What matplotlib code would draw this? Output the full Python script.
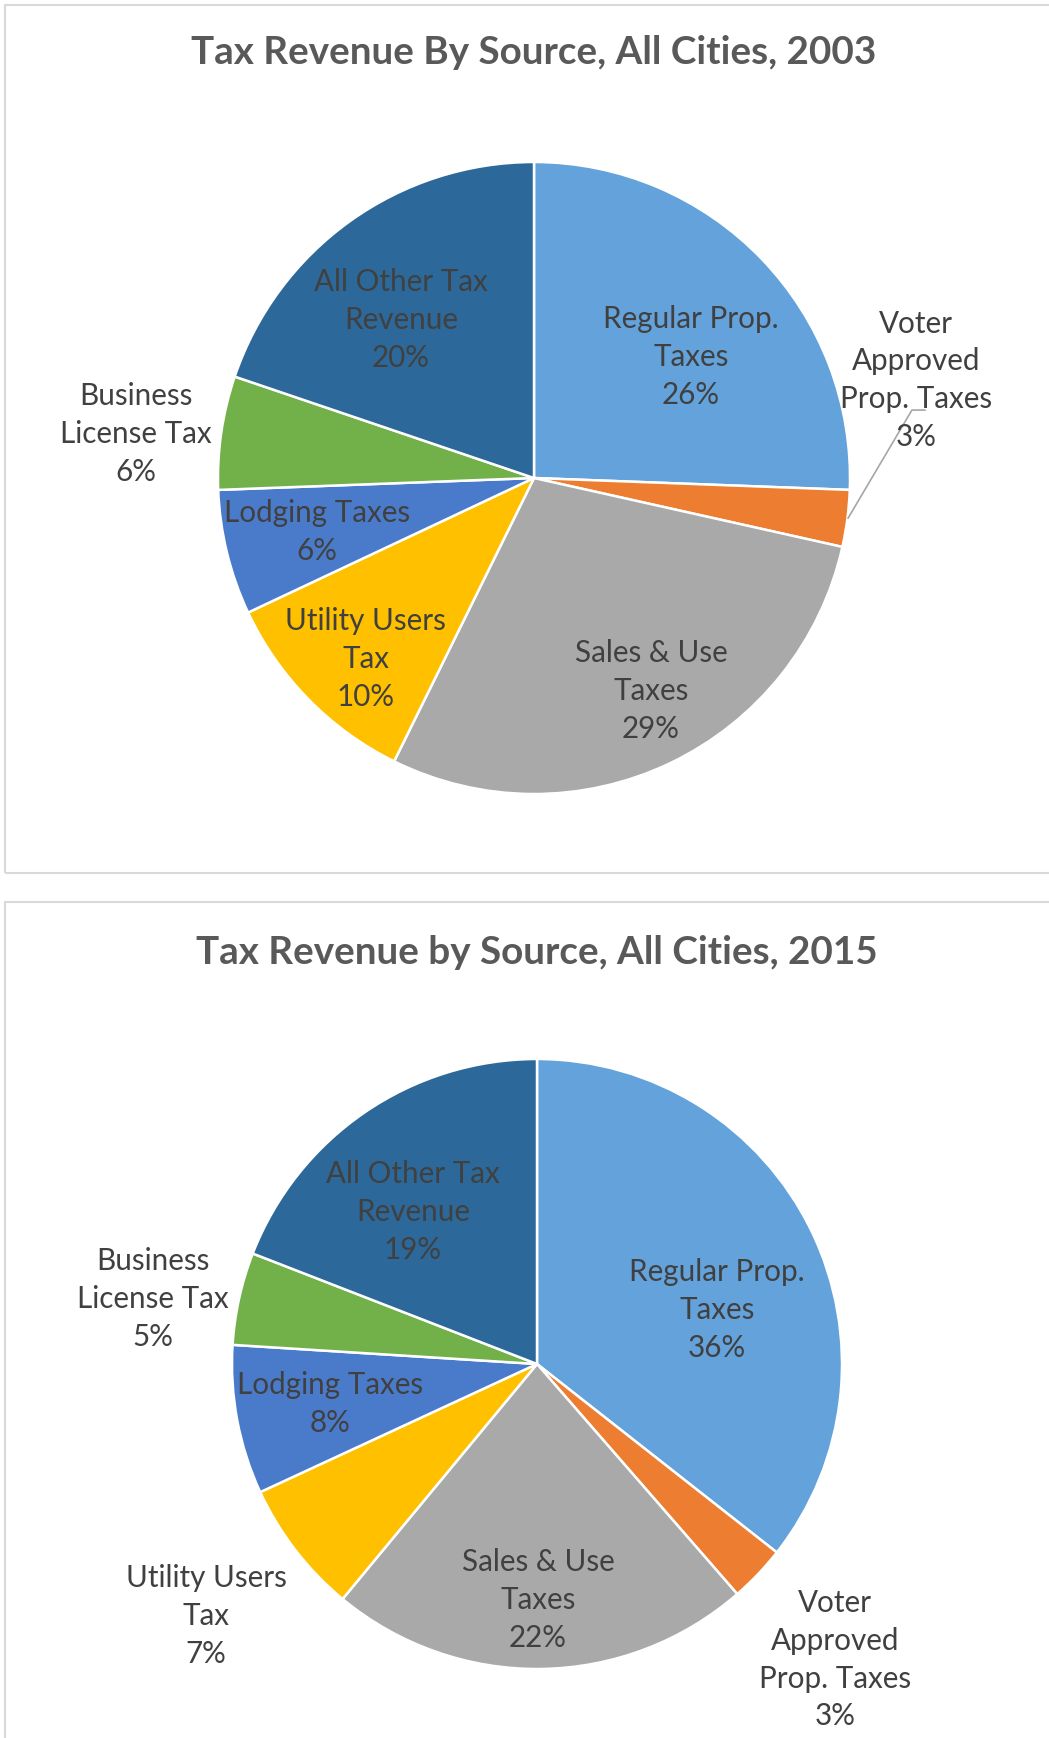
import matplotlib.pyplot as plt
from matplotlib.patches import Rectangle

# data (percent of tax revenue)
categorias = ['Regular Prop.\nTaxes', 'Voter\nApproved\nProp. Taxes', 'Sales & Use\nTaxes',
              'Utility Users\nTax', 'Lodging Taxes', 'Business\nLicense Tax', 'All Other Tax\nRevenue']
valores_2003 = [25.6, 2.9, 28.8, 10.7, 6.4, 5.8, 19.8]
valores_2015 = [35.6, 3.0, 22.4, 7.1, 7.9, 4.9, 19.1]
etiquetas_2003 = ['26%', '3%', '29%', '10%', '6%', '6%', '20%']
etiquetas_2015 = ['36%', '3%', '22%', '7%', '8%', '5%', '19%']
titulo_2003 = 'Tax Revenue By Source, All Cities, 2003'
titulo_2015 = 'Tax Revenue by Source, All Cities, 2015'

colores = ['#63A2DA', '#ED7D31', '#A9A9A9', '#FFC000', '#4A7BCB', '#72B04A', '#2C6899']

# label placement in units of pie radius (layout only)
pos_2003 = [(0.497, 0.383), (1.209, 0.310), (0.370, -0.674), (-0.532, -0.573),
            (-0.687, -0.171), (-1.259, 0.139), (-0.421, 0.500)]
pos_2015 = [(0.590, 0.177), (0.977, -0.970), (0.003, -0.774), (-1.085, -0.826),
            (-0.679, -0.131), (-1.259, 0.213), (-0.407, 0.498)]

W, H = 1049, 1738
fig = plt.figure(figsize=(W / 100, H / 100), dpi=100)
ax = fig.add_axes([0, 0, 1, 1])
ax.set_xlim(0, W)
ax.set_ylim(0, H)
ax.set_aspect('equal')
ax.axis('off')

# panel frames
ax.add_patch(Rectangle((5, H - 873), W + 10, 868, fill=False, ec='#D9D9D9', lw=1.5))
ax.add_patch(Rectangle((5, -10), W + 10, H - 902 + 10, fill=False, ec='#D9D9D9', lw=1.5))

fuente = ['Lato', 'DejaVu Sans']
color_texto = '#404040'


def dibujar_pie(valores, etiquetas, posiciones, centro, radio, titulo, y_titulo):
    ax.pie(valores, colors=colores, startangle=90, counterclock=False,
           center=centro, radius=radio, frame=True,
           wedgeprops=dict(edgecolor='white', linewidth=1.8))
    for nombre, pct, (dx, dy) in zip(categorias, etiquetas, posiciones):
        ax.text(centro[0] + dx * radio, centro[1] + dy * radio, nombre + '\n' + pct,
                ha='center', va='center', fontsize=21.3, color=color_texto,
                family=fuente, linespacing=1.42)
    ax.text(centro[0], y_titulo, titulo, ha='center', va='center', fontsize=27.8,
            fontweight='bold', color='#595959', family=fuente)


dibujar_pie(valores_2003, etiquetas_2003, pos_2003, (534, H - 478), 316, titulo_2003, H - 53)
dibujar_pie(valores_2015, etiquetas_2015, pos_2015, (537, H - 1364), 305, titulo_2015, H - 952)

# leader line for the small 2003 slice
cx, cy, r = 534, H - 478, 316
ax.plot([cx + 0.994 * r, cx + 1.196 * r, cx + 1.237 * r],
        [cy - 0.127 * r, cy + 0.215 * r, cy + 0.215 * r], color='#A6A6A6', lw=1.2)

ax.set_xlim(0, W)
ax.set_ylim(0, H)
ax.axis('off')

plt.savefig('out.png', dpi=100)
